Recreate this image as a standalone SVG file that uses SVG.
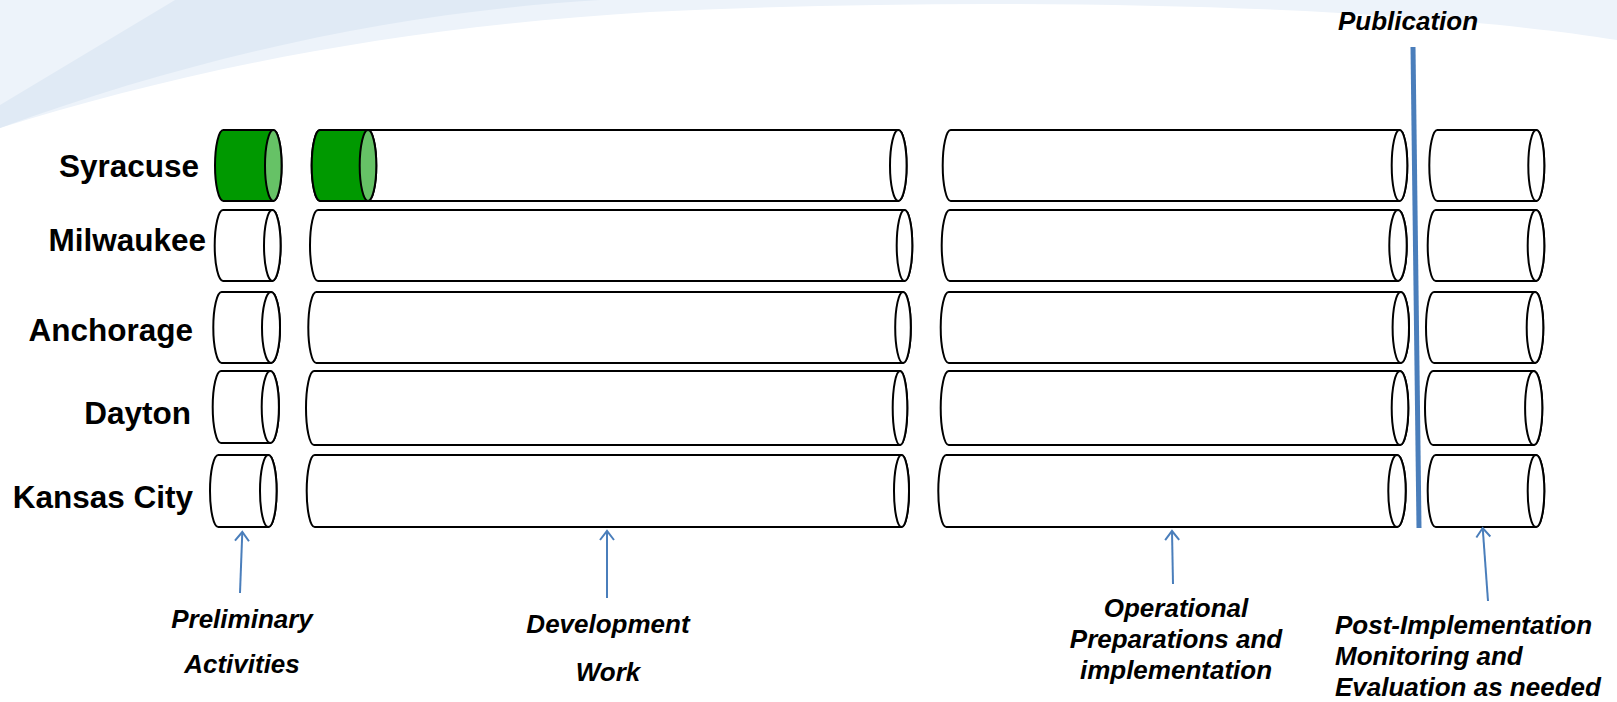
<svg xmlns="http://www.w3.org/2000/svg" width="1617" height="702" viewBox="0 0 1617 702">
<defs>
<style>
.cyl{fill:#ffffff;stroke:#000;stroke-width:2}
.cap{fill:#ffffff;stroke:#000;stroke-width:2}
.gcyl{fill:#009900;stroke:#000;stroke-width:2}
.gcap{fill:#66C266;stroke:#000;stroke-width:2}
.city{font-family:"Liberation Sans",Arial,sans-serif;font-weight:bold;font-size:31.5px;fill:#000;text-anchor:end}
.lbl{font-family:"Liberation Sans",Arial,sans-serif;font-weight:bold;font-style:italic;font-size:26px;fill:#000}
.conn{stroke:#4A7EBB;stroke-width:2;fill:none;marker-end:url(#arr)}
</style>
<marker id="arr" markerUnits="userSpaceOnUse" markerWidth="20" markerHeight="20" refX="10" refY="10" orient="auto">
<path d="M1,3 L10,10 L1,17" fill="none" stroke="#4A7EBB" stroke-width="2"/>
</marker>
</defs>
<rect width="1617" height="702" fill="#ffffff"/>
<g id="background">
<path d="M0,0 H1617 V40 C1400,5 1000,-5 650,12 C380,28 170,75 0,128 Z" fill="#EDF3FA"/>
<path d="M175,0 H600 C400,12 200,55 0,128 V105 Z" fill="#E0EAF5"/>
</g>
<g id="publication">
<line x1="1413" y1="47" x2="1419" y2="528" stroke="#4A7EBB" stroke-width="5"/>
<text class="lbl" x="1408" y="30" text-anchor="middle">Publication</text>
</g>
<g id="labels">
<text class="city" x="199" y="177">Syracuse</text>
<text class="city" x="206" y="251">Milwaukee</text>
<text class="city" x="193" y="341">Anchorage</text>
<text class="city" x="191" y="424">Dayton</text>
<text class="city" x="193" y="508">Kansas City</text>
</g>
<g id="col-preliminary">
<g id="pre-syracuse"><path class="gcyl" d="M223.3,130 L273.3,130 A8.3,35.5 0 0 1 273.3,201 L223.3,201 A8.3,35.5 0 0 1 223.3,130 Z"/><ellipse class="gcap" cx="273.3" cy="165.5" rx="8.3" ry="35.5"/></g>
<g id="pre-milwaukee"><path class="cyl" d="M223,210 L272.3,210 A8.3,35.5 0 0 1 272.3,281 L223,281 A8.3,35.5 0 0 1 223,210 Z"/><ellipse class="cap" cx="272.3" cy="245.5" rx="8.3" ry="35.5"/></g>
<g id="pre-anchorage"><path class="cyl" d="M221.6,292 L271,292 A9,35.5 0 0 1 271,363 L221.6,363 A8.3,35.5 0 0 1 221.6,292 Z"/><ellipse class="cap" cx="271" cy="327.5" rx="9" ry="35.5"/></g>
<g id="pre-dayton"><path class="cyl" d="M221,371 L270.3,371 A8.6,36 0 0 1 270.3,443 L221,443 A8.3,36 0 0 1 221,371 Z"/><ellipse class="cap" cx="270.3" cy="407" rx="8.6" ry="36"/></g>
<g id="pre-kansascity"><path class="cyl" d="M218.3,455 L268.3,455 A8.3,36 0 0 1 268.3,527 L218.3,527 A8.3,36 0 0 1 218.3,455 Z"/><ellipse class="cap" cx="268.3" cy="491" rx="8.3" ry="36"/></g>
</g>
<g id="col-development">
<g id="dev-syracuse"><path class="cyl" d="M320,130 L898.3,130 A8.3,35.5 0 0 1 898.3,201 L320,201 A8.3,35.5 0 0 1 320,130 Z"/><ellipse class="cap" cx="898.3" cy="165.5" rx="8.3" ry="35.5"/>
<path class="gcyl" d="M320,130 L368,130 A8.3,35.5 0 0 1 368,201 L320,201 A8.3,35.5 0 0 1 320,130 Z"/><ellipse class="gcap" cx="368" cy="165.5" rx="8.3" ry="35.5"/></g>
<g id="dev-milwaukee"><path class="cyl" d="M318,210 L904.5,210 A7.8,35.5 0 0 1 904.5,281 L318,281 A8,35.5 0 0 1 318,210 Z"/><ellipse class="cap" cx="904.5" cy="245.5" rx="7.8" ry="35.5"/></g>
<g id="dev-anchorage"><path class="cyl" d="M316.3,292 L903,292 A7.8,35.5 0 0 1 903,363 L316.3,363 A8,35.5 0 0 1 316.3,292 Z"/><ellipse class="cap" cx="903" cy="327.5" rx="7.8" ry="35.5"/></g>
<g id="dev-dayton"><path class="cyl" d="M314,371 L900,371 A7.3,37 0 0 1 900,445 L314,445 A8,37 0 0 1 314,371 Z"/><ellipse class="cap" cx="900" cy="408" rx="7.3" ry="37"/></g>
<g id="dev-kansascity"><path class="cyl" d="M314.7,455 L901.5,455 A7.5,36 0 0 1 901.5,527 L314.7,527 A8,36 0 0 1 314.7,455 Z"/><ellipse class="cap" cx="901.5" cy="491" rx="7.5" ry="36"/></g>
</g>
<g id="col-operational">
<g id="ops-syracuse"><path class="cyl" d="M950.7,130 L1399.5,130 A7.8,35.5 0 0 1 1399.5,201 L950.7,201 A8,35.5 0 0 1 950.7,130 Z"/><ellipse class="cap" cx="1399.5" cy="165.5" rx="7.8" ry="35.5"/></g>
<g id="ops-milwaukee"><path class="cyl" d="M949.7,210 L1398,210 A8.7,35.5 0 0 1 1398,281 L949.7,281 A8,35.5 0 0 1 949.7,210 Z"/><ellipse class="cap" cx="1398" cy="245.5" rx="8.7" ry="35.5"/></g>
<g id="ops-anchorage"><path class="cyl" d="M948.7,292 L1400.8,292 A8.2,35.5 0 0 1 1400.8,363 L948.7,363 A8,35.5 0 0 1 948.7,292 Z"/><ellipse class="cap" cx="1400.8" cy="327.5" rx="8.2" ry="35.5"/></g>
<g id="ops-dayton"><path class="cyl" d="M948.7,371 L1400,371 A8.3,37 0 0 1 1400,445 L948.7,445 A8,37 0 0 1 948.7,371 Z"/><ellipse class="cap" cx="1400" cy="408" rx="8.3" ry="37"/></g>
<g id="ops-kansascity"><path class="cyl" d="M946.3,455 L1397,455 A8.7,36 0 0 1 1397,527 L946.3,527 A8,36 0 0 1 946.3,455 Z"/><ellipse class="cap" cx="1397" cy="491" rx="8.7" ry="36"/></g>
</g>
<g id="col-post">
<g id="post-syracuse"><path class="cyl" d="M1437.3,130 L1536.3,130 A8,35.5 0 0 1 1536.3,201 L1437.3,201 A8,35.5 0 0 1 1437.3,130 Z"/><ellipse class="cap" cx="1536.3" cy="165.5" rx="8" ry="35.5"/></g>
<g id="post-milwaukee"><path class="cyl" d="M1435.7,210 L1536,210 A8.3,35.5 0 0 1 1536,281 L1435.7,281 A8,35.5 0 0 1 1435.7,210 Z"/><ellipse class="cap" cx="1536" cy="245.5" rx="8.3" ry="35.5"/></g>
<g id="post-anchorage"><path class="cyl" d="M1434,292 L1535,292 A8.3,35.5 0 0 1 1535,363 L1434,363 A8,35.5 0 0 1 1434,292 Z"/><ellipse class="cap" cx="1535" cy="327.5" rx="8.3" ry="35.5"/></g>
<g id="post-dayton"><path class="cyl" d="M1433,371 L1533.7,371 A8.6,37 0 0 1 1533.7,445 L1433,445 A8,37 0 0 1 1433,371 Z"/><ellipse class="cap" cx="1533.7" cy="408" rx="8.6" ry="37"/></g>
<g id="post-kansascity"><path class="cyl" d="M1435.7,455 L1536,455 A8.3,36 0 0 1 1536,527 L1435.7,527 A8,36 0 0 1 1435.7,455 Z"/><ellipse class="cap" cx="1536" cy="491" rx="8.3" ry="36"/></g>
</g>
<g id="connectors">
<line class="conn" x1="240" y1="593" x2="242.3" y2="532"/>
<line class="conn" x1="607" y1="598" x2="607" y2="531"/>
<line class="conn" x1="1173" y1="584" x2="1172" y2="531"/>
<line class="conn" x1="1488" y1="601" x2="1482.7" y2="528"/>
</g>
<g id="phase-labels">
<text class="lbl" text-anchor="middle" x="242" y="628">Preliminary</text>
<text class="lbl" text-anchor="middle" x="242" y="673">Activities</text>
<text class="lbl" text-anchor="middle" x="608" y="633">Development</text>
<text class="lbl" text-anchor="middle" x="608" y="681">Work</text>
<text class="lbl" text-anchor="middle" x="1176" y="617">Operational</text>
<text class="lbl" text-anchor="middle" x="1176" y="648">Preparations and</text>
<text class="lbl" text-anchor="middle" x="1176" y="679">implementation</text>
<text class="lbl" x="1335" y="634">Post-Implementation</text>
<text class="lbl" x="1335" y="665">Monitoring and</text>
<text class="lbl" x="1335" y="696">Evaluation as needed</text>
</g>
</svg>
